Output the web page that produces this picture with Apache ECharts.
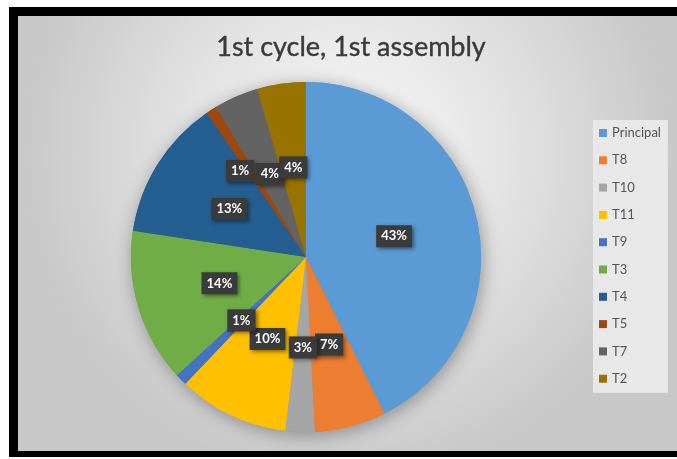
<!DOCTYPE html>
<html>
<head>
<meta charset="utf-8">
<script src="https://cdn.jsdelivr.net/npm/echarts@6/dist/echarts.min.js"></script>
<style>
  html, body { margin: 0; padding: 0; width: 677px; height: 459px; background: #ffffff; overflow: hidden; }
  #frame { position: absolute; left: 9px; top: 7px; width: 668px; height: 450px; background: #000; }
  #chart { position: absolute; left: 18px; top: 16px; width: 659px; height: 435px; }
</style>
</head>
<body>
<div id="frame"></div>
<div id="chart"></div>
<script>
var titleText = '1st cycle, 1st assembly';
var categories = ['Principal', 'T8', 'T10', 'T11', 'T9', 'T3', 'T4', 'T5', 'T7', 'T2'];
var values = [42.6, 6.6, 2.7, 10.2, 1.1, 14.2, 13.0, 1.0, 4.1, 4.5];
var colors = ['#5B9BD5', '#ED7D31', '#A5A5A5', '#FFC000', '#4472C4', '#70AD47', '#255E91', '#9E480E', '#636363', '#997300'];

var pieData = categories.map(function (c, i) {
  return { name: c, value: values[i], itemStyle: { color: colors[i] } };
});

var chart = echarts.init(document.getElementById('chart'), null, { renderer: 'canvas' });
chart.setOption({
  animation: false,
  backgroundColor: {
    type: 'radial', x: 0.5, y: 0.32, r: 0.75,
    colorStops: [
      { offset: 0, color: '#fbfbfb' },
      { offset: 0.55, color: '#e0e0e0' },
      { offset: 1, color: '#c8c8c8' }
    ]
  },
  title: {
    text: titleText,
    left: 328, top: 13, textAlign: 'center',
    textStyle: { fontFamily: 'Lato', fontSize: 27, fontWeight: 'normal', color: '#3a3a3a', textBorderColor: '#3a3a3a', textBorderWidth: 0.4 }
  },
  legend: {
    orient: 'vertical',
    left: 575, top: 104,
    backgroundColor: '#e8e8e8',
    padding: [6, 7, 7, 6],
    itemWidth: 8, itemHeight: 8,
    itemGap: 13.3,
    icon: 'rect',
    data: categories,
    textStyle: { fontFamily: 'Lato', fontSize: 13, color: '#555555', lineHeight: 14 }
  },
  series: [
    {
      type: 'pie',
      silent: true,
      center: [288, 241],
      radius: 175,
      z: 1,
      label: { show: false },
      labelLine: { show: false },
      itemStyle: { shadowBlur: 18, shadowColor: 'rgba(0,0,0,0.35)', shadowOffsetX: 2, shadowOffsetY: 3 },
      data: pieData
    },
    {
      type: 'pie',
      center: [288, 241],
      radius: 175,
      z: 2,
      percentPrecision: 0,
      itemStyle: { borderWidth: 0 },
      label: {
        show: true,
        position: 'inside',
        formatter: '{d}%',
        color: '#ffffff',
        fontFamily: 'Lato',
        fontWeight: 'bold',
        fontSize: 13,
        backgroundColor: '#3b3b3b',
        padding: [5, 5, 4, 5],
        shadowColor: 'rgba(0,0,0,0.45)',
        shadowBlur: 4,
        shadowOffsetX: 2,
        shadowOffsetY: 2
      },
      labelLine: { show: false },
      labelLayout: function (params) {
        if (params.dataIndex === 7) { return { dx: -17, dy: -10 }; }
        return {};
      },
      data: pieData
    }
  ]
});
</script>
</body>
</html>
